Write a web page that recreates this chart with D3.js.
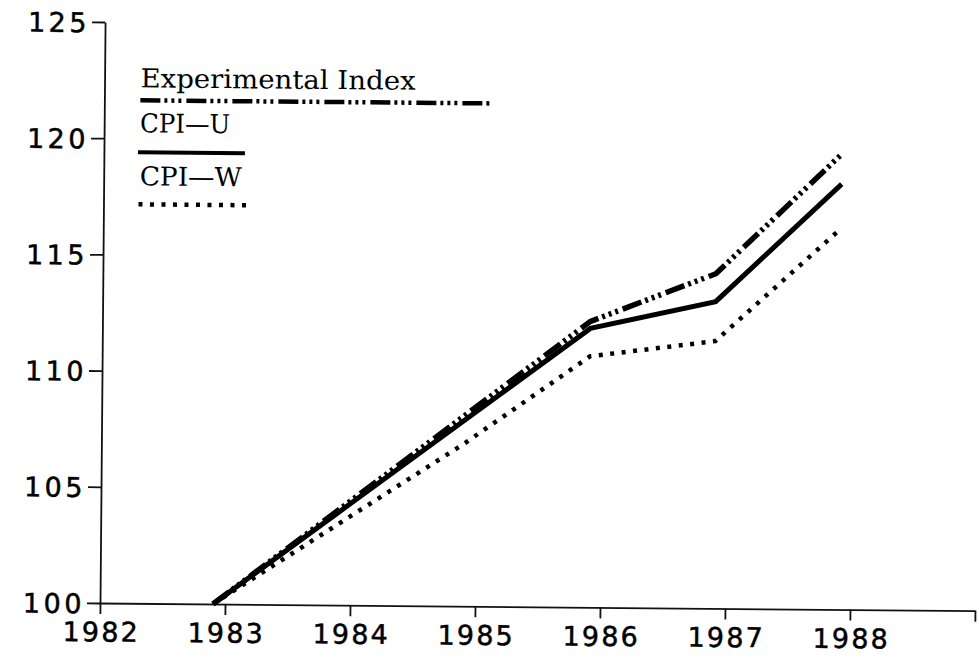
<!DOCTYPE html>
<html>
<head>
<meta charset="utf-8">
<script src="https://cdn.jsdelivr.net/npm/d3@7"></script>
<style>
  body { margin: 0; background: #fff; }
  svg { display: block; }
</style>
</head>
<body>
<div id="chart"></div>
<script>
const width = 979, height = 659;

// values (index, 1983 = 100)
const years = [1983, 1984, 1985, 1986, 1987, 1988];
const experimental = [100, 104.1, 108.2, 112.3, 114.4, 119.6];
const cpiU = [100, 104.0, 108.0, 112.0, 113.2, 118.3];
const cpiW = [100, 103.5, 107.0, 110.8, 111.5, 116.4];
const seriesNames = ["Experimental Index", "CPI—U", "CPI—W"];
const yTicks = [100, 105, 110, 115, 120, 125];
const xTicks = [1982, 1983, 1984, 1985, 1986, 1987, 1988, 1989];

const svg = d3.select("#chart")
    .append("svg")
    .attr("width", width)
    .attr("height", height);

// scanned page is a little skewed
const g = svg.append("g").attr("transform", "rotate(0.5, 100, 603)");

const x = d3.scaleLinear().domain([1982, 1989]).range([100, 975]);
const y = d3.scaleLinear().domain([100, 125]).range([603, 22]);
const xShift = -12; // points sit a bit left of the year ticks

const yAxis = g.append("g")
    .attr("transform", "translate(100,0)")
    .call(d3.axisLeft(y).tickValues(yTicks).tickSize(13).tickSizeOuter(0).tickPadding(2));

const xAxis = g.append("g")
    .attr("transform", "translate(0,603)")
    .call(d3.axisBottom(x).tickValues(xTicks).tickSize(11).tickSizeOuter(0).tickPadding(8)
        .tickFormat(d => d === 1989 ? "" : d));

g.selectAll(".domain, .tick line")
    .attr("stroke", "#111")
    .attr("stroke-width", 1.8);

yAxis.selectAll("text")
    .style("font-family", "'DejaVu Sans', sans-serif")
    .style("font-size", "27px")
    .style("letter-spacing", "3.5px")
    .attr("dy", "0.36em")
    .attr("fill", "#000")
    .attr("stroke", "#000")
    .attr("stroke-width", 0.5);

xAxis.selectAll("text")
    .style("font-family", "'DejaVu Sans', sans-serif")
    .style("font-size", "27px")
    .style("letter-spacing", "2.2px")
    .attr("dx", "1px")
    .attr("dy", "0.72em")
    .attr("fill", "#000")
    .attr("stroke", "#000")
    .attr("stroke-width", 0.5);

const series = [
    { name: seriesNames[0], values: experimental, width: 5.5, dash: "20,4,3,4,3,4,3,5" },
    { name: seriesNames[1], values: cpiU, width: 5, dash: null },
    { name: seriesNames[2], values: cpiW, width: 4.5, dash: "4,7.5" }
];

const line = d3.line()
    .x(d => x(d[0]) + xShift)
    .y(d => y(d[1]));

g.selectAll(".series")
    .data(series)
    .enter()
    .append("path")
    .attr("class", "series")
    .attr("d", s => line(years.map((yr, i) => [yr, s.values[i]])))
    .attr("fill", "none")
    .attr("stroke", "#000")
    .attr("stroke-width", s => s.width)
    .attr("stroke-dasharray", s => s.dash)
    .attr("stroke-linejoin", "miter");

// legend (text above a sample of each line)
const legend = [
    { label: seriesNames[0], textY: 87, lineY: 100, x1: 136, x2: 486, w: 4.5, dash: "20,4,3,4,3,4,3,5", len: 275 },
    { label: seriesNames[1], textY: 132, lineY: 152, x1: 134, x2: 241, w: 4, dash: null, len: 90 },
    { label: seriesNames[2], textY: 185, lineY: 204, x1: 135, x2: 243, w: 4.5, dash: "4,7.5", len: 102 }
];

const lg = g.selectAll(".legend")
    .data(legend)
    .enter()
    .append("g")
    .attr("class", "legend");

lg.append("text")
    .attr("x", 136)
    .attr("y", d => d.textY)
    .attr("textLength", d => d.len)
    .attr("lengthAdjust", "spacingAndGlyphs")
    .style("font-family", "'DejaVu Serif', serif")
    .style("font-size", "26px")
    .attr("fill", "#000")
    .text(d => d.label);

lg.append("line")
    .attr("x1", d => d.x1)
    .attr("x2", d => d.x2)
    .attr("y1", d => d.lineY)
    .attr("y2", d => d.lineY)
    .attr("stroke", "#000")
    .attr("stroke-width", d => d.w)
    .attr("stroke-dasharray", d => d.dash);
</script>
</body>
</html>
